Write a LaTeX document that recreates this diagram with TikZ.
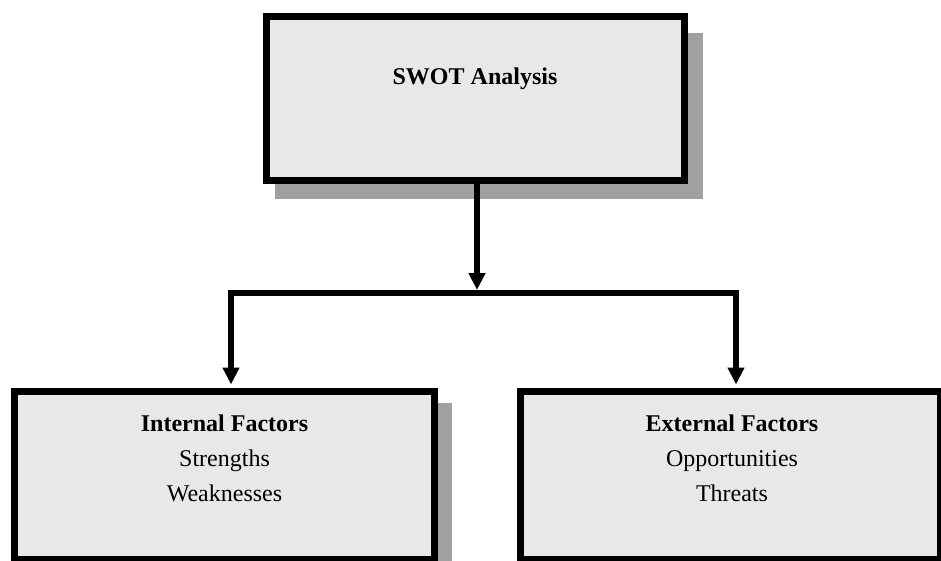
\documentclass[tikz,border=0pt]{standalone}
\usepackage{fontspec}
\setmainfont{Liberation Serif}
\usetikzlibrary{arrows.meta}
\definecolor{boxfill}{HTML}{E8E8E8}
\definecolor{shadowgray}{HTML}{A0A0A0}
\begin{document}
\begin{tikzpicture}[x=1pt,y=-1pt,
  box/.style={draw=black, line width=7pt, fill=boxfill, rectangle, inner sep=0pt},
  shade/.style={fill=shadowgray, draw=none},
  txt/.style={font=\fontsize{24}{35}\selectfont, align=center, inner sep=0pt},
  conn/.style={line width=6pt, draw=black},
  tip/.style={-{Triangle[width=16pt,length=17pt]}}
]
\useasboundingbox (0,0) rectangle (941,560);
% shadows
\fill[shade] (275,33) rectangle (703,199);
\fill[shade] (25,403) rectangle (452,580);
% boxes
\node[box, minimum width=418pt, minimum height=164pt] (top) at (475.5,98.5) {};
\node[box, minimum width=420pt, minimum height=168pt] (L) at (224.5,475.5) {};
\node[box, minimum width=420pt, minimum height=168pt] (R) at (730.5,475.5) {};
% texts
\node[txt, anchor=base] (ttop) at (475,84) {\textbf{SWOT Analysis}};
\node[txt, anchor=base] (tL) at (224.5,501) {\textbf{Internal Factors}\\Strengths\\Weaknesses};
\node[txt, anchor=base] (tR) at (732,501) {\textbf{External Factors}\\Opportunities\\Threats};
% connectors
\coordinate (j) at (477,293);
\coordinate (hl) at (231,293);
\coordinate (hr) at (736,293);
\draw[conn, tip] (top.south -| j) -- ([yshift=3pt]j);
\draw[conn, line cap=rect] (hl) -- (hr);
\draw[conn, tip] (hl) -- ([yshift=3.5pt]hl |- L.north);
\draw[conn, tip] (hr) -- ([yshift=3.5pt]hr |- R.north);
\end{tikzpicture}
\end{document}
